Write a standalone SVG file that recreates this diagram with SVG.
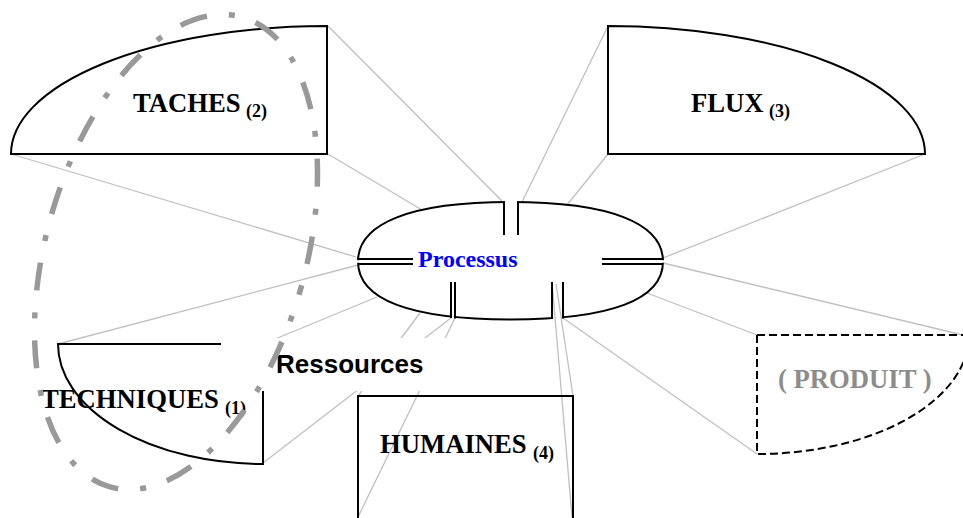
<svg xmlns="http://www.w3.org/2000/svg" width="963" height="518" viewBox="0 0 963 518">
<style>
.conn{stroke:#c0c0c0;stroke-width:1.3;fill:none}
.shape{stroke:#000;stroke-width:2;fill:none}
.lbl{font-family:"Liberation Serif","Times New Roman",serif;font-weight:bold;font-size:26.67px;fill:#000}
.sub{font-size:18px}
</style>
<defs>
<mask id="gaps" maskUnits="userSpaceOnUse" x="0" y="0" width="963" height="518">
<rect x="0" y="0" width="963" height="518" fill="#fff"/>
<rect x="505" y="190" width="12" height="25" fill="#000"/>
<rect x="345" y="260.2" width="25" height="2.6" fill="#000"/>
<rect x="650" y="260.2" width="25" height="2.6" fill="#000"/>
<rect x="452.1" y="305" width="1.8" height="25" fill="#000"/>
<rect x="553.1" y="305" width="8.8" height="25" fill="#000"/>
</mask>
</defs>
<rect width="963" height="518" fill="#fff"/>
<g id="connectors">
<line class="conn" x1="328" y1="26" x2="502" y2="201"/>
<line class="conn" x1="328" y1="154" x2="422" y2="210"/>
<line class="conn" x1="608" y1="26" x2="522" y2="202"/>
<line class="conn" x1="608" y1="154" x2="567" y2="205"/>
<line class="conn" x1="11" y1="154" x2="356" y2="257"/>
<line class="conn" x1="58" y1="344" x2="358" y2="265"/>
<line class="conn" x1="377" y1="297" x2="263" y2="344"/>
<line class="conn" x1="420" y1="313" x2="358" y2="396"/>
<line class="conn" x1="451" y1="318" x2="263" y2="463"/>
<line class="conn" x1="455" y1="318" x2="358" y2="517"/>
<line class="conn" x1="552" y1="282" x2="572" y2="517"/>
<line class="conn" x1="556" y1="284" x2="573" y2="396"/>
<line class="conn" x1="563" y1="318" x2="757" y2="454"/>
<line class="conn" x1="647" y1="293" x2="757" y2="335"/>
<line class="conn" x1="663" y1="263" x2="963" y2="335"/>
<line class="conn" x1="925" y1="154" x2="663" y2="258"/>
</g>
<g id="taches">
<path class="shape" d="M327,26 L327,154 L11,154 A316,128 0 0 1 327,26 Z"/>
<text class="lbl" x="133" y="112">TACHES<tspan class="sub" x="246" y="117">(2)</tspan></text>
</g>
<g id="flux">
<path class="shape" d="M608,26 L608,154 L925,154 A317,128 0 0 0 608,26 Z"/>
<text class="lbl" x="691" y="112">FLUX<tspan class="sub" x="769" y="117">(3)</tspan></text>
</g>
<g id="techniques">
<path class="shape" d="M58,344 L263,344 L263,464 A205,120 0 0 1 58,344 Z"/>
<text class="lbl" x="41" y="408">TECHNIQUES<tspan class="sub" x="225" y="414">(1)</tspan></text>
</g>
<g id="humaines">
<path class="shape" d="M358,519 V396 H573 V519"/>
<text class="lbl" x="380" y="453">HUMAINES<tspan class="sub" x="533" y="459">(4)</tspan></text>
</g>
<g id="produit">
<path class="shape" stroke-dasharray="8 4" d="M757,335 L969,335 A212,119 0 0 1 757,454 Z"/>
<text class="lbl" x="778" y="388" style="fill:#8c8c8c">( PRODUIT )</text>
</g>
<g id="ressources">
<rect x="221" y="338" width="280" height="53" fill="#fff"/>
<text x="276" y="373" font-family="'Liberation Sans',Arial,sans-serif" font-weight="bold" font-size="26" fill="#000">Ressources</text>
</g>
<g id="processus">
<path class="shape" mask="url(#gaps)" d="M358,261.5 C358,223 411,202 510.5,202 C610,202 663,223 663,261.5 C663,300 610,319.5 510.5,319.5 C411,319.5 358,300 358,261.5 Z"/>
<path class="shape" d="M504,202 V235 M518,202 V235 M358,259 H413 M358,264 H413 M602,259 H663 M602,264 H663 M451,282 V318 M455,282 V318.5 M552,282 V319 M563,282 V318.5"/>
<text x="418" y="267" font-family="'Liberation Serif','Times New Roman',serif" font-weight="bold" font-size="24" fill="#0000ff">Processus</text>
</g>
<g id="groupe">
<ellipse cx="176" cy="252" rx="130" ry="244" transform="rotate(15.7 176 252)" fill="none" stroke="#999" stroke-width="5.5" stroke-dasharray="28 22 6 22" stroke-dashoffset="20"/>
</g>
</svg>
